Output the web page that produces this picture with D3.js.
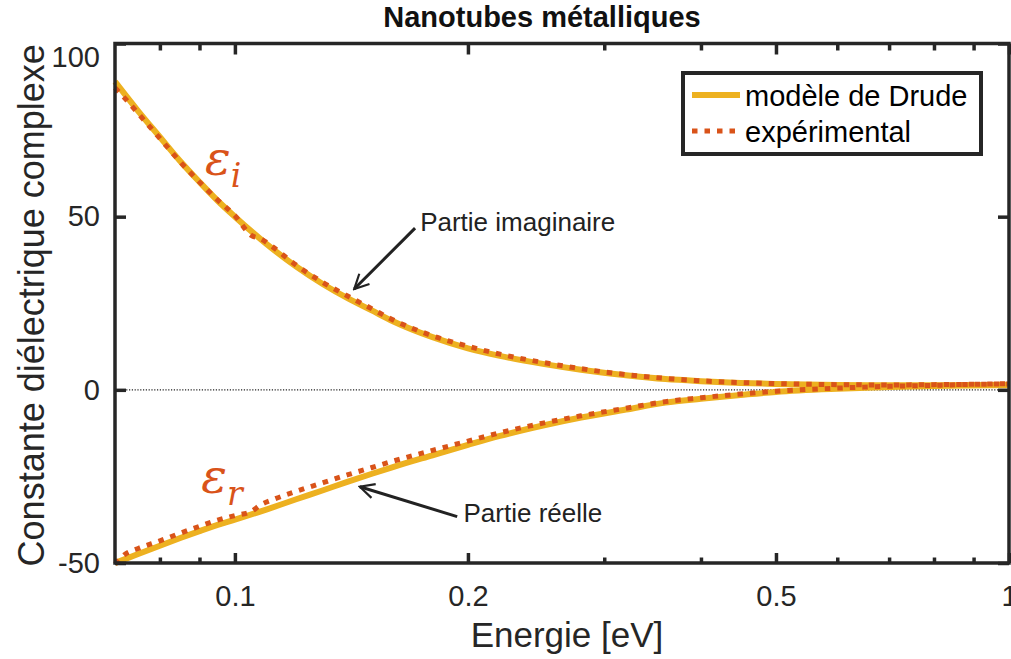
<!DOCTYPE html>
<html><head><meta charset="utf-8">
<script src="https://cdn.jsdelivr.net/npm/d3@7"></script>
<style>
body{margin:0;background:#fff}
</style>
</head><body><svg id="c" width="1011" height="659" font-family="Liberation Sans, Arial, Helvetica, sans-serif"></svg>
<script>
// ---------- data ----------
const energy = [0.07,0.075,0.08,0.085,0.09,0.095,0.1,0.11,0.12,0.13,0.14,0.15,0.16,0.18,0.2,0.22,0.25,0.28,0.32,0.36,0.4,0.45,0.5,0.6,0.7,0.8,0.9,1.0];
const drudeImag = [89,80.5,73,66,60,54.6,50,42,35.6,30.5,26.4,23,19.8,15.2,12,9.8,7.5,5.8,4.2,3.1,2.5,2.0,1.7,1.4,1.3,1.3,1.3,1.3];
const drudeReal = [-50,-47.4,-45,-42.8,-40.8,-39,-37.5,-34.5,-31.6,-29,-26.5,-24.3,-22.3,-18.9,-15.9,-13.3,-10.3,-8,-5.7,-3.7,-2.6,-1.5,-0.6,0.3,0.8,1.1,1.3,1.5];

const expEnergy = [0.07,0.072,0.075,0.08,0.085,0.09,0.095,0.1,0.105,0.108,0.112,0.12,0.13,0.14,0.15,0.16,0.18,0.2,0.22,0.25,0.28,0.32,0.36,0.4,0.45,0.5,0.6,0.7,0.8,0.9,1.0];
const expImag = [87.2,84.3,79.8,72.6,65.8,60,54.8,50.3,44.6,43.6,41.2,36,31,27,23.5,20.2,15.6,12.6,10.3,7.9,6.1,4.4,3.3,2.6,2.1,1.8,1.5,1.4,1.5,1.6,1.7];
const expReal = [-50.3,-47.6,-45.8,-43.6,-41.4,-39.4,-37.6,-36.3,-35.1,-33.2,-31.7,-29.3,-26.8,-24.5,-22.5,-20.6,-17.5,-14.8,-12.4,-9.6,-7.5,-5.3,-3.4,-2.3,-1.2,-0.4,0.5,1.0,1.3,1.6,1.8];

const xDomain = [0.07, 1];
const yDomain = [-50, 100];
const xMajorTicks = [0.1, 0.2, 0.5, 1];
const xMajorLabels = ["0.1", "0.2", "0.5", "1"];
const xMinorTicks = [0.08, 0.09, 0.3, 0.4, 0.6, 0.7, 0.8, 0.9];
const yTicks = [-50, 0, 50, 100];
const yTickLabels = ["-50", "0", "50", "100"];

const titleText = "Nanotubes métalliques";
const xLabel = "Energie [eV]";
const yLabel = "Constante diélectrique complexe";
const legendLabels = ["modèle de Drude", "expérimental"];
// annotations in data coordinates: [energy, value]
const annotImag = {text:"Partie imaginaire", at:[0.1735, 45.9], from:[0.1709, 46.7], to:[0.1426, 29.1]};
const annotReal = {text:"Partie réelle", at:[0.1974, -38.1], from:[0.1937, -36.6], to:[0.145, -28.0]};
const epsImagPos = [0.0915, 62];
const epsRealPos = [0.0905, -29.7];

// ---------- layout ----------
const W = 1011, H = 659;
const M = {left:115, right:1009, top:43.5, bottom:563};
const cDrude = "#EDB120", cExp = "#D95319", cAxis = "#262626";

const svg = d3.select("#c");
svg.append("rect").attr("width",W).attr("height",H).attr("fill","#fff");

const x = d3.scaleLog().domain(xDomain).range([M.left, M.right]);
const y = d3.scaleLinear().domain(yDomain).range([M.bottom, M.top]);

// zero dotted line
svg.append("line")
  .attr("x1", x(xDomain[0])).attr("x2", x(xDomain[1]))
  .attr("y1", y(0)).attr("y2", y(0))
  .attr("stroke","#222").attr("stroke-width",1.1).attr("stroke-dasharray","1.2,1.6");

const line = d3.line().x(d=>x(d[0])).y(d=>y(d[1])).curve(d3.curveMonotoneX);
const drI = energy.map((e,i)=>[e, drudeImag[i]]);
const drR = energy.map((e,i)=>[e, drudeReal[i]]);
const exI = expEnergy.map((e,i)=>[e, expImag[i]]);
const exR = expEnergy.map((e,i)=>[e, expReal[i]]);

[drI, drR].forEach(d=>svg.append("path").attr("d", line(d)).attr("fill","none")
  .attr("stroke", cDrude).attr("stroke-width",6));
[exI, exR].forEach(d=>svg.append("path").attr("d", line(d)).attr("fill","none")
  .attr("stroke", cExp).attr("stroke-width",5).attr("stroke-dasharray","5.5,7"));

// ---------- axes ----------
const fsTick = 29;
function styleAxis(g){
  g.select(".domain").remove();
  g.selectAll(".tick line").attr("stroke", cAxis).attr("stroke-width",3.5);
  g.selectAll(".tick text").attr("fill", cAxis).attr("font-size", fsTick)
    .attr("font-family","Liberation Sans, Arial, sans-serif");
}
// bottom major
svg.append("g").attr("transform",`translate(0,${M.bottom})`)
  .call(d3.axisBottom(x).tickValues(xMajorTicks).tickFormat((d,i)=>xMajorLabels[i]).tickSizeInner(-10).tickSizeOuter(0).tickPadding(22))
  .call(styleAxis);
// bottom minor
svg.append("g").attr("transform",`translate(0,${M.bottom})`)
  .call(d3.axisBottom(x).tickValues(xMinorTicks).tickFormat("").tickSizeInner(-5.5).tickSizeOuter(0))
  .call(styleAxis);
// top major/minor
svg.append("g").attr("transform",`translate(0,${M.top})`)
  .call(d3.axisTop(x).tickValues(xMajorTicks).tickFormat("").tickSizeInner(-11).tickSizeOuter(0))
  .call(styleAxis);
svg.append("g").attr("transform",`translate(0,${M.top})`)
  .call(d3.axisTop(x).tickValues(xMinorTicks).tickFormat("").tickSizeInner(-7).tickSizeOuter(0))
  .call(styleAxis);
// left
const gl = svg.append("g").attr("transform",`translate(${M.left},0)`)
  .call(d3.axisLeft(y).tickValues(yTicks).tickFormat((d,i)=>yTickLabels[i]).tickSizeInner(-11).tickSizeOuter(0).tickPadding(15))
  .call(styleAxis);
gl.selectAll(".tick").filter(d=>d===100).select("text").attr("dy","0.8em");
// right
svg.append("g").attr("transform",`translate(${M.right},0)`)
  .call(d3.axisRight(y).tickValues(yTicks).tickFormat("").tickSizeInner(-11).tickSizeOuter(0))
  .call(styleAxis);

// box
svg.append("rect").attr("x",M.left).attr("y",M.top).attr("width",M.right-M.left).attr("height",M.bottom-M.top)
  .attr("fill","none").attr("stroke",cAxis).attr("stroke-width",3.5);

// ---------- labels ----------
svg.append("text").attr("x",542).attr("y",27).attr("text-anchor","middle")
  .attr("font-size",29).attr("font-weight","bold").attr("fill","#111").text(titleText);
svg.append("text").attr("x",(M.left+M.right)/2+5).attr("y",647).attr("text-anchor","middle")
  .attr("font-size",35).attr("fill",cAxis).text(xLabel);
svg.append("text").attr("transform",`translate(44,${(M.top+M.bottom)/2+2}) rotate(-90)`)
  .attr("text-anchor","middle").attr("font-size",36).attr("fill",cAxis).text(yLabel);

// epsilon labels
function eps(pos, sub){
  const t = svg.append("text").attr("x",x(pos[0])).attr("y",y(pos[1]))
    .style("font-family","'DejaVu Serif', 'Liberation Serif', serif").style("font-style","italic")
    .attr("font-size",48).attr("fill",cExp);
  t.append("tspan").text("ε");
  t.append("tspan").attr("dy",12).attr("font-size",33).text(sub);
}
eps(epsImagPos, "i");
eps(epsRealPos, "r");

// annotations with arrows
svg.append("defs").append("marker").attr("id","arr").attr("viewBox","0 0 10 10")
  .attr("refX",9).attr("refY",5).attr("markerWidth",6).attr("markerHeight",6)
  .attr("orient","auto").attr("markerUnits","strokeWidth")
  .append("path").attr("d","M1,1 L9,5 L1,9").attr("fill","none").attr("stroke","#222").attr("stroke-width",1.2);
[annotImag, annotReal].forEach(a=>{
  svg.append("line").attr("x1",x(a.from[0])).attr("y1",y(a.from[1]))
    .attr("x2",x(a.to[0])).attr("y2",y(a.to[1]))
    .attr("stroke","#222").attr("stroke-width",3).attr("marker-end","url(#arr)");
  svg.append("text").attr("x",x(a.at[0])).attr("y",y(a.at[1]))
    .attr("font-size",26).attr("fill","#222").text(a.text);
});

// ---------- legend ----------
const L = {x:683, y:73, w:298, h:81};
const lg = svg.append("g");
lg.append("rect").attr("x",L.x).attr("y",L.y).attr("width",L.w).attr("height",L.h)
  .attr("fill","#fff").attr("stroke",cAxis).attr("stroke-width",4);
const rows = [{c:cDrude, w:6, dash:null}, {c:cExp, w:5, dash:"5.5,7"}];
rows.forEach((r,i)=>{
  const yy = L.y + 22 + i*36;
  const ln = lg.append("line").attr("x1",L.x+9).attr("x2",L.x+57).attr("y1",yy).attr("y2",yy)
    .attr("stroke",r.c).attr("stroke-width",r.w);
  if(r.dash) ln.attr("stroke-dasharray",r.dash);
  lg.append("text").attr("x",L.x+62).attr("y",yy+11).attr("font-size",29).attr("fill","#000").text(legendLabels[i]);
});
</script>
</body></html>
